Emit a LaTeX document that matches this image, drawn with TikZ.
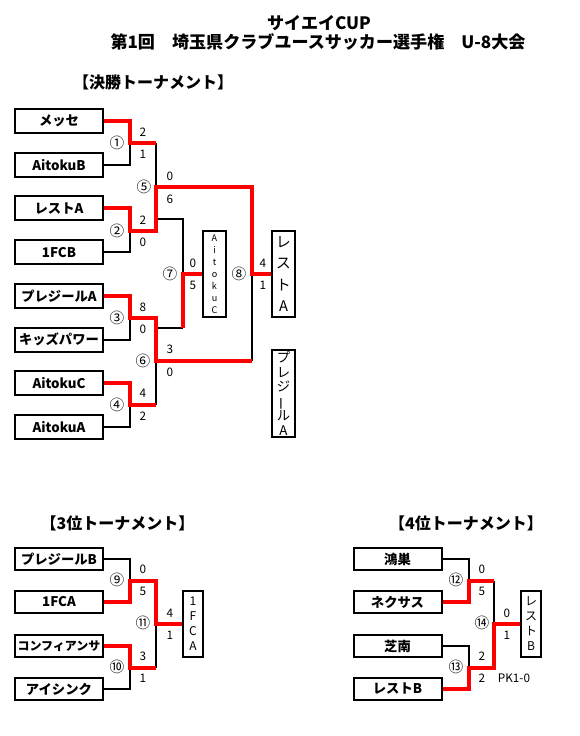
\documentclass[tikz,border=0pt]{standalone}
\usepackage{fontspec}
\setmainfont{Noto Sans CJK JP}
\usepackage{xcolor}
\usepackage{tikz}
\definecolor{winred}{HTML}{FF0000}
\definecolor{ink}{HTML}{000000}
\newcommand{\vbar}{\rotatebox[origin=c]{90}{ー}}
\tikzset{
    every picture/.style={line join=miter},
    teambox/.style={draw=ink,line width=1.5pt,minimum width=66pt,minimum height=17pt,
      inner sep=0pt,font=\fontsize{10}{12}\selectfont\bfseries},
    vbox/.style={draw=ink,line width=1.5pt,minimum width=17pt,minimum height=64.5pt,
      inner sep=0pt,align=center},
    lossline/.style={draw=ink,line width=1.5pt},
    winline/.style={draw=winred,line width=3pt},
    score/.style={font=\fontsize{8.8}{9}\selectfont,inner sep=0pt},
    matchno/.style={font=\fontsize{11}{11}\selectfont,inner sep=0pt},
    heading/.style={font=\fontsize{12}{14}\selectfont\bfseries,inner sep=0pt},
    titletext/.style={font=\fontsize{12.8}{15}\selectfont\bfseries,inner sep=0pt}
}

\begin{document}
\begin{tikzpicture}[x=0.75pt,y=-0.75pt]
  \useasboundingbox (0,0) rectangle (580,736);
  \node[titletext] (title1) at (319,23) {サイエイCUP};
  \node[titletext] (title2) at (318,42) {第1回　埼玉県クラブユースサッカー選手権　U-8大会};
  \node[heading] (head1) at (153,82) {【決勝トーナメント】};
  \node[heading] (head3) at (117.5,523) {【3位トーナメント】};
  \node[heading] (head4) at (466,523) {【4位トーナメント】};

  \foreach \k/\name in {1/メッセ,2/AitokuB,3/レストA,4/1FCB,5/プレジールA,6/キッズパワー,7/AitokuC,8/AitokuA}
    \node[teambox,minimum height=18pt] (t\k) at (59,{121+43.7*(\k-1)}) {\name};
  \foreach \k/\name/\y in {1/プレジールB/559,2/1FCA/602,3/{\fontsize{9}{10}\selectfont コンフィアンサ}/646,4/アイシンク/689}
    \node[teambox,minimum height=16.5pt] (u\k) at (59,\y) {\name};
  \foreach \k/\name/\y in {1/鴻巣/559,2/ネクサス/602,3/芝南/646,4/レストB/689}
    \node[teambox,minimum height=16.5pt] (v\k) at (397.5,\y) {\name};

  \node[vbox,font=\fontsize{6.8}{9}\selectfont] (w7) at (214.5,274) {A\\i\\t\\o\\k\\u\\C};
  \node[vbox,font=\fontsize{11}{16}\selectfont] (w8) at (283.5,274) {レ\\ス\\ト\\A};
  \node[vbox,minimum height=65pt,font=\fontsize{10}{10.9}\selectfont] (r8) at (283.5,393.5) {プ\\レ\\ジ\\\vbar\\ル\\A};
  \node[vbox,minimum width=15pt,minimum height=49.5pt,font=\fontsize{9}{11.2}\selectfont] (w11) at (193,623.5) {1\\F\\C\\A};
  \node[vbox,minimum width=15pt,minimum height=49.5pt,font=\fontsize{9}{11.2}\selectfont] (w14) at (531,623.5) {レ\\ス\\ト\\B};

  \coordinate (m1) at (130,143);   \coordinate (m1o) at (156,143);
  \coordinate (m2) at (130,231);   \coordinate (m2o) at (156,231);
  \coordinate (m3) at (130,318);   \coordinate (m3o) at (156,318);
  \coordinate (m4) at (130,405);   \coordinate (m4o) at (156,405);
  \coordinate (m5) at (156,187);   \coordinate (m5o) at (252,187);
  \coordinate (m6) at (156,361);   \coordinate (m6o) at (252,361);
  \coordinate (p5) at (156,219);   \coordinate (q5) at (183,219);
  \coordinate (p6) at (156,328);   \coordinate (q6) at (183,328);
  \coordinate (m7) at (183,274);   \coordinate (m8) at (252,274);
  \coordinate (n9) at (130,580.5); \coordinate (n9o) at (156,580.5);
  \coordinate (n10) at (130,667.5);\coordinate (n10o) at (156,667.5);
  \coordinate (n11) at (156,623.5);
  \coordinate (n12) at (469,580.5);\coordinate (n12o) at (494,580.5);
  \coordinate (n13) at (469,667.5);\coordinate (n13o) at (494,667.5);
  \coordinate (n14) at (494,623.5);

  % lost sides
  \draw[lossline] (t2.east) -| (m1);
  \draw[lossline] (t4.east) -| (m2);
  \draw[lossline] (t6.east) -| (m3);
  \draw[lossline] (t8.east) -| (m4);
  \draw[lossline] (m1o) -- (m5);
  \draw[lossline] (m6) -- (m4o);
  \draw[lossline] (p5) -- (q5) -- (m7);
  \draw[lossline] (p6) -- (q6);
  \draw[lossline] (m8) -- (m6o);
  \draw[lossline] (u1.east) -| (n9);
  \draw[lossline] (u4.east) -| (n10);
  \draw[lossline] (n11) -- (n10o);
  \draw[lossline] (v1.east) -| (n12);
  \draw[lossline] (v3.east) -| (n13);
  \draw[lossline] (n12o) -- (n14);

  % winners
  \draw[winline] (t1.east) -| (m1) -- (m1o);
  \draw[winline] (t3.east) -| (m2) -- (m2o) -- (m5) -- (m5o) -- (m8) -- (w8.west);
  \draw[winline] (t5.east) -| (m3) -- (m3o) -- (m6) -- (m6o);
  \draw[winline] (t7.east) -| (m4) -- (m4o);
  \draw[winline] (q6) -- (m7) -- (w7.west);
  \draw[winline] (u2.east) -| (n9) -- (n9o) -- (n11) -- (w11.west);
  \draw[winline] (u3.east) -| (n10) -- (n10o);
  \draw[winline] (v2.east) -| (n12) -- (n12o);
  \draw[winline] (v4.east) -| (n13) -- (n13o) -- (n14) -- (w14.west);

  \foreach \k/\c/\x/\y in {1/①/117/143,2/②/117/231,3/③/117/318,4/④/117/405,
      5/⑤/144/187,6/⑥/143/361,7/⑦/170/274,8/⑧/239/274,9/⑨/117/580,
      10/⑩/117/667,11/⑪/143/623,12/⑫/456/580,13/⑬/456/667,14/⑭/482/623}
    \node[matchno] (no\k) at (\x,\y) {\c};

  \foreach \s/\x/\y [count=\k] in {2/143/132,1/143/154,0/170/176,6/170/199,
      2/143/220,0/143/242,0/193/263,5/193/285,4/263/263,1/263/285,
      8/143/307,0/143/329,3/170/349,0/170/372,4/143/393,2/143/416,
      0/143/569,5/143/591,4/170/613,1/170/635,3/143/656,1/143/678,
      0/482/569,5/482/591,0/507/613,1/507/635,2/482/656,2/482/678,PK1-0/514/678}
    \node[score] (s\k) at (\x,\y) {\s};
\end{tikzpicture}
\end{document}
